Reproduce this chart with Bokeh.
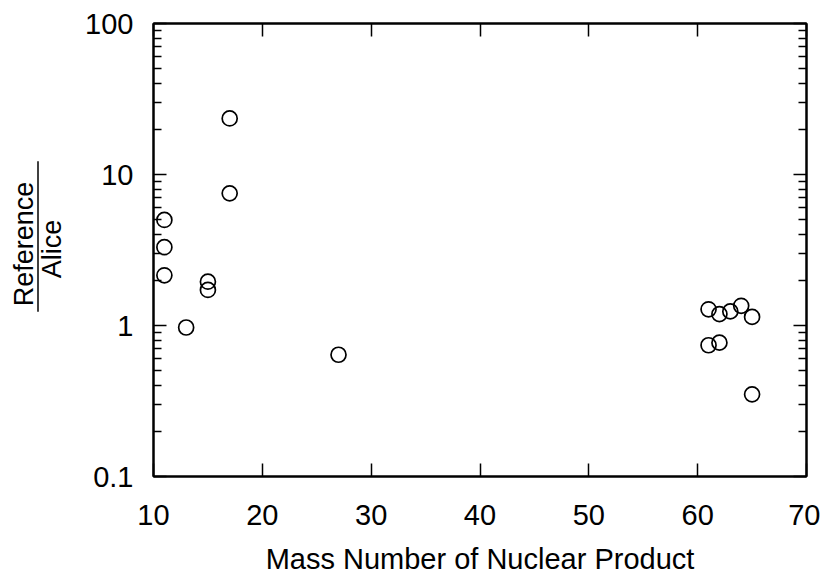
from bokeh.plotting import figure
from bokeh.layouts import row
from bokeh.models import (LogAxis, LinearAxis, FixedTicker, Range1d,
                          CustomJSTickFormatter, ColumnDataSource)
from bokeh.core.properties import value
from bokeh.embed import file_html
from bokeh.resources import INLINE
import math

# data
mass_number = [11, 11, 11, 13, 15, 15, 17, 17, 27, 61, 62, 63, 64, 65, 61, 62, 65]
ratio = [5.0, 3.3, 2.15, 0.97, 1.95, 1.72, 23.5, 7.5, 0.64, 1.28, 1.19, 1.24, 1.35, 1.14, 0.74, 0.77, 0.35]
x_ticks = [10, 20, 30, 40, 50, 60, 70]
y_ticks = [0.1, 1, 10, 100]
y_minor = [m * d for d in (0.1, 1, 10) for m in range(2, 10)]
x_title = "Mass Number of Nuclear Product"
y_num = "Reference"
y_den = "Alice"

FONT = "Liberation Sans"
LEFT_W = 70
TOP, BOTTOM = 23, 477  # frame edges on the page (px)

p = figure(width=820 - LEFT_W, height=577, output_backend="svg", toolbar_location=None,
           y_axis_type="log", x_range=Range1d(10, 70), y_range=Range1d(0.1, 100),
           min_border_left=153 - LEFT_W, min_border_right=14, min_border_top=TOP,
           min_border_bottom=577 - BOTTOM, x_axis_location=None, y_axis_location=None)
p.grid.visible = False
p.outline_line_color = "black"
p.outline_line_width = 2
p.background_fill_color = "white"
p.border_fill_color = "white"

blank = CustomJSTickFormatter(code="return ''")

def style_x(ax, show):
    ax.ticker = FixedTicker(ticks=x_ticks, minor_ticks=[])
    ax.major_tick_in = 13
    ax.major_tick_out = 0
    ax.minor_tick_in = 0
    ax.minor_tick_out = 0
    ax.axis_line_color = "black"
    ax.axis_line_width = 2
    ax.major_tick_line_width = 1.5
    if show:
        ax.major_label_text_font = FONT
        ax.major_label_text_font_size = "29px"
        ax.major_label_text_color = "black"
        ax.major_label_standoff = 28
        ax.axis_label = x_title
        ax.axis_label_text_font = FONT
        ax.axis_label_text_font_size = "29px"
        ax.axis_label_text_font_style = "normal"
        ax.axis_label_text_color = "black"
        ax.axis_label_standoff = 15
    else:
        ax.formatter = blank
        ax.major_label_standoff = 0

def style_y(ax, show):
    ax.ticker = FixedTicker(ticks=y_ticks, minor_ticks=y_minor)
    ax.major_tick_in = 13
    ax.major_tick_out = 0
    ax.minor_tick_in = 8
    ax.minor_tick_out = 0
    ax.axis_line_color = "black"
    ax.axis_line_width = 2
    ax.major_tick_line_width = 1.5
    ax.minor_tick_line_width = 1.5
    if show:
        ax.major_label_text_font = FONT
        ax.major_label_text_font_size = "29px"
        ax.major_label_text_color = "black"
        ax.major_label_standoff = 20
        ax.formatter = CustomJSTickFormatter(
            code="return tick < 1 ? tick.toFixed(1) : tick.toFixed(0)")
    else:
        ax.formatter = blank
        ax.major_label_standoff = 0

xb = LinearAxis(); style_x(xb, True); p.add_layout(xb, "below")
xt = LinearAxis(); style_x(xt, False); p.add_layout(xt, "above")
yl = LogAxis(); style_y(yl, True); p.add_layout(yl, "left")
yr = LogAxis(); style_y(yr, False); p.add_layout(yr, "right")

src = ColumnDataSource(dict(x=mass_number, y=ratio))
p.scatter("x", "y", source=src, size=15, marker="circle", fill_color=None,
          line_color="black", line_width=1.7)

# fraction-style y label in a narrow side panel.
# Its frame is aligned with the main frame; y coordinate = -(page pixel row).
lp = figure(width=LEFT_W, height=577, output_backend="svg", toolbar_location=None,
            x_range=Range1d(0, LEFT_W), y_range=Range1d(-BOTTOM, -TOP),
            x_axis_location=None, y_axis_location=None,
            min_border=0, min_border_left=0, min_border_right=0,
            min_border_top=TOP, min_border_bottom=577 - BOTTOM)
lp.grid.visible = False
lp.outline_line_color = None
lp.background_fill_color = "white"
lp.border_fill_color = "white"
lp.text(x=[23], y=[-244], text=[y_num], angle=math.pi / 2, text_align="center",
        text_baseline="middle", text_font=value(FONT), text_font_size="27px",
        text_color="black")
lp.text(x=[51], y=[-249], text=[y_den], angle=math.pi / 2, text_align="center",
        text_baseline="middle", text_font=value(FONT), text_font_size="27px",
        text_color="black")
lp.segment(x0=[37.5], y0=[-161], x1=[37.5], y1=[-312], line_color="black",
           line_width=1.5)

layout = row(lp, p, spacing=0)
open("out.html", "w").write(file_html(layout, INLINE))
